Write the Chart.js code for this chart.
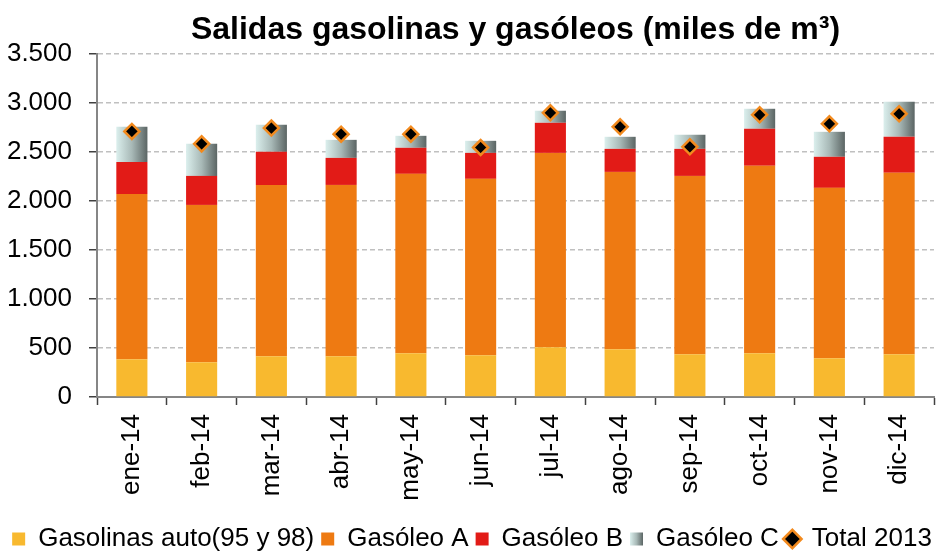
<!DOCTYPE html>
<html>
<head>
<meta charset="utf-8">
<script src="https://cdn.jsdelivr.net/npm/chart.js@4"></script>
<style>
  html, body { margin: 0; padding: 0; background: #fff; overflow: hidden; }
  #wrap { width: 944px; height: 551px; }
</style>
</head>
<body>
<div id="wrap"><canvas id="chart"></canvas></div>
<script>
const months = ['ene-14', 'feb-14', 'mar-14', 'abr-14', 'may-14', 'jun-14', 'jul-14', 'ago-14', 'sep-14', 'oct-14', 'nov-14', 'dic-14'];
const gasolinas = [385, 354, 416, 416, 446, 426, 508, 487, 436, 446, 395, 436];
const gasoleoA = [1687, 1606, 1748, 1748, 1831, 1800, 1983, 1810, 1820, 1913, 1739, 1851];
const gasoleoB = [327, 296, 338, 276, 266, 265, 307, 235, 276, 378, 317, 368];
const gasoleoC = [358, 327, 276, 184, 122, 123, 123, 123, 144, 204, 255, 358];
const total2013 = [2710, 2583, 2744, 2682, 2682, 2546, 2900, 2757, 2553, 2880, 2788, 2890];
const yTickLabels = ['0', '500', '1.000', '1.500', '2.000', '2.500', '3.000', '3.500'];

const FONT = "'Liberation Sans', Arial, sans-serif";
const BAR_PCT = 0.446;
const SWATCH = 13;
let swatchLeft = null; // where the Gasóleo C legend box ended up last draw

function grayGradient(ctx, x0, x1) {
  const g = ctx.createLinearGradient(x0, 0, x1, 0);
  g.addColorStop(0, '#dbefed');
  g.addColorStop(0.5, '#a8b9b7');
  g.addColorStop(1, '#5b6564');
  return g;
}

// gradient per bar, placed from the category scale
function gasoleoCFill(context) {
  const chart = context.chart;
  const xs = chart.scales.x;
  if (!xs || context.dataIndex === undefined) return '#a8b9b7';
  const cx = xs.getPixelForValue(context.dataIndex);
  const half = (xs.width / months.length) * BAR_PCT / 2;
  return grayGradient(chart.ctx, cx - half, cx + half);
}

function legendItems(chart) {
  return chart.data.datasets.map((ds, i) => {
    const item = {
      text: ds.label,
      datasetIndex: i,
      hidden: false,
      pointStyle: 'rect',
      lineWidth: 0,
      strokeStyle: 'transparent',
      fillStyle: ds.backgroundColor
    };
    if (i === 3) {
      item.fillStyle = swatchLeft !== null ? grayGradient(chart.ctx, swatchLeft, swatchLeft + SWATCH) : '#a8b9b7';
    }
    if (i === 4) {
      item.pointStyle = 'rectRot';
      item.fillStyle = '#000000';
      item.strokeStyle = '#f28a1e';
      item.lineWidth = 2.5;
    }
    return item;
  });
}

const swatchTracker = {
  id: 'swatchTracker',
  afterDraw(chart) {
    const hb = chart.legend && chart.legend.legendHitBoxes && chart.legend.legendHitBoxes[3];
    if (hb) swatchLeft = hb.left;
  }
};

const chart = new Chart(document.getElementById('chart'), {
  type: 'bar',
  plugins: [swatchTracker],
  data: {
    labels: months,
    datasets: [
      { label: 'Gasolinas auto(95 y 98)', data: gasolinas, backgroundColor: '#f8b92f', order: 1 },
      { label: 'Gasóleo A', data: gasoleoA, backgroundColor: '#ee7a12', order: 1 },
      { label: 'Gasóleo B', data: gasoleoB, backgroundColor: '#e21b17', order: 1 },
      { label: 'Gasóleo C', data: gasoleoC, backgroundColor: gasoleoCFill, order: 1 },
      {
        type: 'line',
        label: 'Total 2013',
        data: total2013,
        showLine: false,
        order: 0,
        pointStyle: 'rectRot',
        pointRadius: 7.5,
        pointHoverRadius: 7.5,
        pointBackgroundColor: '#000000',
        pointBorderColor: '#f28a1e',
        pointBorderWidth: 2.5
      }
    ]
  },
  options: {
    responsive: true,
    maintainAspectRatio: false,
    animation: false,
    barPercentage: BAR_PCT,
    categoryPercentage: 1,
    layout: { padding: { left: 0, right: 0, top: 0, bottom: -11 } },
    plugins: {
      tooltip: { enabled: false },
      title: {
        display: true,
        text: 'Salidas gasolinas y gasóleos (miles de m³)',
        color: '#000',
        fullSize: false,
        font: { family: FONT, size: 32, weight: 'bold' },
        padding: { top: 11, bottom: 4.6 }
      },
      legend: {
        position: 'bottom',
        labels: {
          color: '#000',
          font: { family: FONT, size: 26 },
          usePointStyle: true,
          boxWidth: SWATCH,
          boxHeight: SWATCH,
          padding: 7,
          generateLabels: legendItems
        }
      }
    },
    scales: {
      x: {
        stacked: true,
        afterFit: (s) => { s.height = 122; },
        grid: {
          offset: true,
          drawOnChartArea: false,
          drawTicks: true,
          tickLength: 8,
          tickColor: '#404040',
          tickWidth: 1.5
        },
        border: { display: true, color: '#868686', width: 2 },
        ticks: {
          color: '#000',
          font: { family: FONT, size: 26 },
          minRotation: 90,
          maxRotation: 90,
          autoSkip: false,
          padding: 9
        }
      },
      y: {
        stacked: true,
        min: 0,
        max: 3500,
        afterFit: (s) => { s.width = 97; },
        grid: {
          color: (c) => (c.tick && c.tick.value === 0 ? 'rgba(0,0,0,0)' : '#c0c0c0'),
          lineWidth: 1.5,
          tickLength: 8,
          tickColor: '#404040',
          tickWidth: 1.5,
          tickBorderDash: []
        },
        border: { display: true, color: '#868686', width: 2, dash: [5, 3] },
        ticks: {
          stepSize: 500,
          color: '#000',
          font: { family: FONT, size: 26 },
          padding: 17,
          callback: (value, index) => yTickLabels[index]
        }
      },
      y2: {
        position: 'right',
        display: true,
        afterFit: (s) => { s.width = 4; },
        grid: { display: false, drawTicks: false },
        border: { display: false },
        ticks: { display: false }
      }
    }
  }
});

// second pass so the legend swatch for Gasóleo C gets its gradient
chart.update();
</script>
</body>
</html>
